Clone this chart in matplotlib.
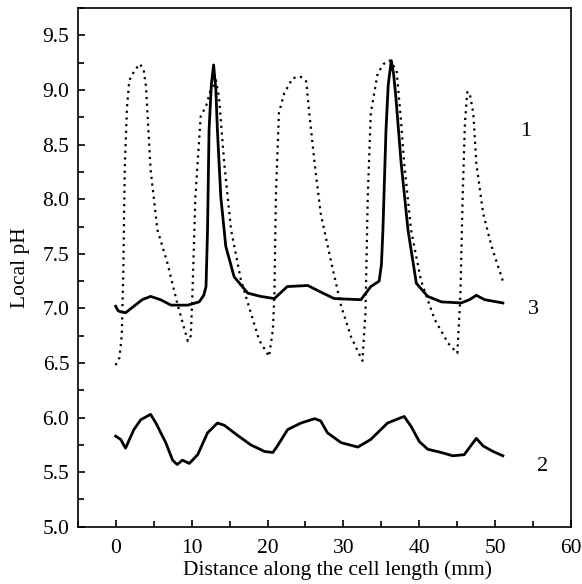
import matplotlib
matplotlib.use("Agg")
import matplotlib.pyplot as plt
from matplotlib.ticker import MultipleLocator, FormatStrFormatter

plt.rcParams["font.family"] = ["Liberation Serif", "DejaVu Serif"]

# curve 1 (dotted)
x1 = [0.0, 0.5, 0.8, 1.0, 1.2, 1.5, 1.8, 2.5, 3.2, 3.7, 4.0, 4.6, 5.5, 6.8, 8.1, 9.5, 9.9, 10.1, 10.5,
      11.2, 11.9, 12.5, 13.2, 13.6, 14.3, 15.2, 16.5, 17.8, 18.9, 20.2, 20.7, 20.9, 21.1,
      21.5, 22.2, 23.3, 24.4, 25.1, 25.5, 26.2, 27.0, 28.4, 29.7, 31.0, 32.5, 32.9, 33.2,
      33.6, 34.5, 35.3, 36.1, 37.0, 37.6, 38.0, 38.9, 40.2, 42.0, 43.8, 45.0, 45.4, 45.7,
      46.0, 46.3, 46.6, 47.1, 47.5, 48.4, 49.5, 51.0]
y1 = [6.48, 6.55, 6.75, 7.3, 8.3, 8.85, 9.09, 9.18, 9.24, 9.18, 9.03, 8.27, 7.72, 7.42, 7.05, 6.70, 6.75, 7.11, 8.02,
      8.76, 8.85, 9.00, 9.09, 8.94, 8.33, 7.72, 7.26, 6.96, 6.71, 6.56, 6.8, 7.11, 8.02,
      8.79, 8.97, 9.11, 9.12, 9.08, 8.79, 8.33, 7.87, 7.42, 7.02, 6.74, 6.52, 6.96, 8.02,
      8.79, 9.15, 9.24, 9.27, 9.18, 8.70, 8.33, 7.72, 7.26, 6.90, 6.68, 6.59, 7.11, 8.02,
      8.70, 8.98, 8.98, 8.79, 8.33, 7.87, 7.57, 7.25]

# curve 3 (solid, upper)
x3 = [0.0, 0.3, 0.6, 1.3, 2.4, 3.5, 4.6, 5.9, 7.3, 9.5, 11.0, 11.6, 11.9, 12.1, 12.3, 12.6, 12.9,
      13.2, 13.4, 13.85, 14.5, 15.6, 17.4, 19.1, 20.9, 22.6, 25.3, 27.0, 28.8, 32.3, 33.6, 34.7,
      35.0, 35.2, 35.6, 35.9, 36.3, 36.6, 36.9, 37.6, 38.5, 39.6, 41.1, 42.9, 45.5, 46.6, 47.5, 48.6, 51.0]
y3 = [7.02, 6.98, 6.97, 6.96, 7.02, 7.08, 7.11, 7.08, 7.03, 7.03, 7.06, 7.12, 7.20, 7.72, 8.63, 9.05, 9.23,
      9.0, 8.63, 8.02, 7.57, 7.29, 7.14, 7.11, 7.09, 7.20, 7.21, 7.15, 7.09, 7.08, 7.20, 7.25,
      7.40, 7.72, 8.63, 9.05, 9.27, 9.15, 8.94, 8.33, 7.72, 7.23, 7.11, 7.06, 7.05, 7.08, 7.12, 7.08, 7.05]

# curve 2 (solid, lower)
x2 = [0.0, 0.66, 1.3, 2.4, 3.3, 4.6, 5.3, 6.6, 7.5, 8.1, 8.8, 9.7, 10.8, 12.1, 13.4, 14.3,
      16.0, 17.8, 19.6, 20.7, 21.3, 22.65, 24.4, 26.2, 27.0, 27.9, 29.7, 31.9, 33.6, 35.8,
      37.6, 38.0, 38.9, 40.0, 41.1, 42.9, 44.4, 45.9, 47.5, 48.4, 49.7, 51.0]
y2 = [5.83, 5.80, 5.72, 5.89, 5.98, 6.03, 5.95, 5.77, 5.61, 5.57, 5.61, 5.58, 5.66, 5.86, 5.95, 5.93,
      5.84, 5.75, 5.69, 5.68, 5.74, 5.89, 5.95, 5.99, 5.97, 5.86, 5.77, 5.73, 5.80, 5.95,
      6.00, 6.01, 5.92, 5.78, 5.71, 5.68, 5.65, 5.66, 5.81, 5.74, 5.69, 5.65]

curve_labels = ["1", "3", "2"]
label_x = [54.0, 55.0, 56.2]
label_y = [8.62, 6.99, 5.55]

fig = plt.figure(figsize=(5.82, 5.84), dpi=100)
ax = fig.add_axes([0.1335, 0.098, 0.848, 0.888])

ax.plot(x1, y1, color="black", lw=1.6, linestyle=(0, (1, 2)))
ax.plot(x3, y3, color="black", lw=2.0)
ax.plot(x2, y2, color="black", lw=2.0)

for t, lx, ly in zip(curve_labels, label_x, label_y):
    ax.text(lx, ly, t, fontsize=16, ha="center", va="center")

ax.set_xlim(-5, 60)
ax.set_ylim(5.0, 9.75)
ax.xaxis.set_major_locator(MultipleLocator(10))
ax.xaxis.set_minor_locator(MultipleLocator(5))
ax.yaxis.set_major_locator(MultipleLocator(0.5))
ax.yaxis.set_minor_locator(MultipleLocator(0.25))
ax.yaxis.set_major_formatter(FormatStrFormatter("%.1f"))
ax.tick_params(which="both", direction="in", top=False, right=False, labelsize=15.5, width=1.2)
ax.tick_params(which="major", length=5)
ax.tick_params(which="minor", length=4)
ax.tick_params(axis="x", pad=8.5)
ax.tick_params(axis="y", pad=6)
for s in ax.spines.values():
    s.set_linewidth(1.2)

ax.set_xlabel("Distance along the cell length (mm)", fontsize=15.5)
ax.xaxis.set_label_coords(0.527, -0.064)
ax.set_ylabel("Local pH", fontsize=15.5, labelpad=9)

fig.savefig("out.png", dpi=100)
